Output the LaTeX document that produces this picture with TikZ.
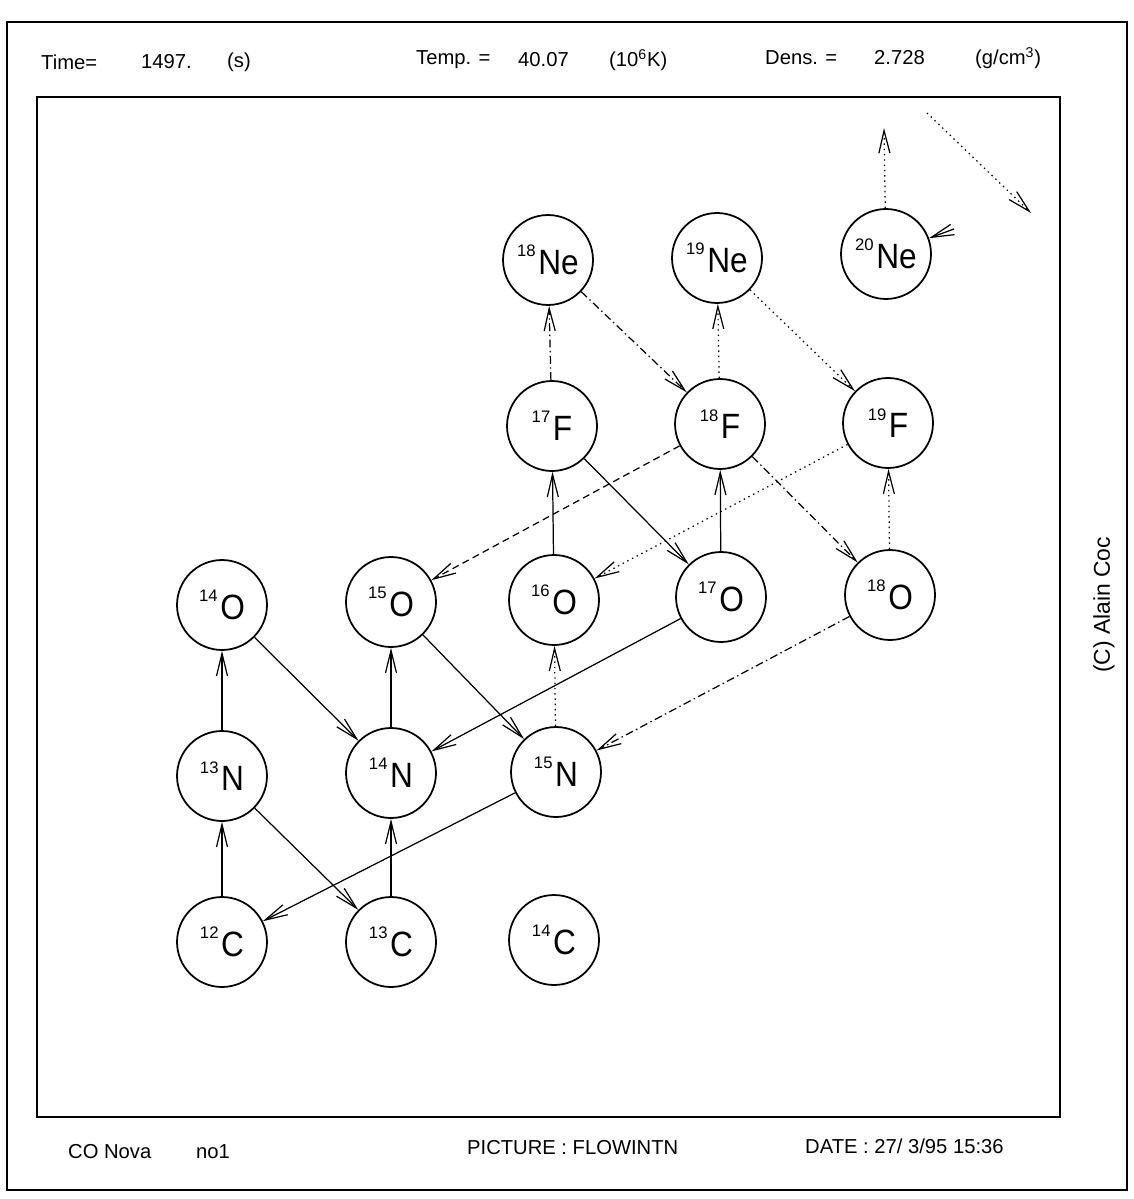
\documentclass[tikz,border=0pt]{standalone}
\usepackage{fontspec}
\setmainfont{Liberation Sans}
\newfontfamily\plotfont[FakeStretch=0.9]{Liberation Sans}
\usetikzlibrary{arrows.meta}

\newcommand{\iso}[2]{\raisebox{10pt}{\rmfamily\fontsize{9.5}{10}\selectfont #1}\kern1.5pt#2}

\begin{document}
\begin{tikzpicture}[
  x=0.02cm, y=-0.02cm,
  every node/.style={font=\fontsize{11.5}{13}\selectfont},
  nuc/.style={circle, draw, line width=1pt, minimum size=1.8cm,
    inner sep=0pt, font=\plotfont\fontsize{20}{21}\selectfont},
  frame/.style={draw, line width=1.1pt},
  arr/.style={-{Straight Barb[length=4.5mm, width=2.2mm]}, line width=0.7pt},
  dt/.style={dash pattern=on 0.8pt off 2.2pt},
  ds/.style={dash pattern=on 4pt off 2.5pt},
  dd/.style={dash pattern=on 4.5pt off 2pt on 0.8pt off 2pt},
]
\useasboundingbox (0,0) rectangle (1133,1199);

%% ---- frames ----
\draw[frame] (7,22) rectangle (1127,1190);
\draw[frame] (37,97) rectangle (1060,1117);

%% ---- header ----
\node[anchor=west] (time)  at (35,62)  {Time=};
\node[anchor=west] (timev) at (135,62) {1497.};
\node[anchor=west] (timeu) at (221,62) {(s)};
\node[anchor=west] (temp)  at (410,60) {Temp. =};
\node[anchor=west] (tempv) at (512,60) {40.07};
\node[anchor=west] (tempu) at (603,60) {(10\textsuperscript{6}K)};
\node[anchor=west] (dens)  at (759,58) {Dens. =};
\node[anchor=west] (densv) at (868,58) {2.728};
\node[anchor=west] (densu) at (969,58) {(g/cm\textsuperscript{3})};

%% ---- footer ----
\node[anchor=west] (model) at (62,1152)  {CO Nova};
\node[anchor=west] (run)   at (190,1152) {no1};
\node[anchor=west] (pict)  at (461,1148) {PICTURE : FLOWINTN};
\node[anchor=west] (date)  at (799,1146) {DATE : 27/ 3/95 15:36};
\node[rotate=90, font=\fontsize{13}{14}\selectfont] (copy) at (1104,605)
  {(C) Alain Coc};

%% ---- nuclei ----
\node[nuc] (C12)  at (222,942) {\iso{12}{C}};
\node[nuc] (C13)  at (391,942) {\iso{13}{C}};
\node[nuc] (C14)  at (554,940) {\iso{14}{C}};

\node[nuc] (N13)  at (222,776) {\iso{13}{N}};
\node[nuc] (N14)  at (391,773) {\iso{14}{N}};
\node[nuc] (N15)  at (556,772) {\iso{15}{N}};

\node[nuc] (O14)  at (222,605) {\iso{14}{O}};
\node[nuc] (O15)  at (391,602) {\iso{15}{O}};
\node[nuc] (O16)  at (554,600) {\iso{16}{O}};
\node[nuc] (O17)  at (721,597) {\iso{17}{O}};
\node[nuc] (O18)  at (890,595) {\iso{18}{O}};

\node[nuc] (F17)  at (552,426) {\iso{17}{F}};
\node[nuc] (F18)  at (720,424) {\iso{18}{F}};
\node[nuc] (F19)  at (888,423) {\iso{19}{F}};

\node[nuc] (Ne18) at (548,260) {\iso{18}{Ne}};
\node[nuc] (Ne19) at (717,258) {\iso{19}{Ne}};
\node[nuc] (Ne20) at (886,254) {\iso{20}{Ne}};

\coordinate (ne20up) at (884,128);
\coordinate (ne20in) at (954,229);
\coordinate (escA)   at (927,113);
\coordinate (escB)   at (1031,213);

%% ---- CNO cycle (solid) ----
\draw[arr] (C12) -- (N13);
\draw[arr] (N13) -- (O14);
\draw[arr] (N13) -- (C13);
\draw[arr] (C13) -- (N14);
\draw[arr] (N14) -- (O15);
\draw[arr] (O14) -- (N14);
\draw[arr] (O15) -- (N15);
\draw[arr] (N15) -- (C12);
\draw[arr] (O16) -- (F17);
\draw[arr] (F17) -- (O17);
\draw[arr] (O17) -- (F18);
\draw[arr] (O17) -- (N14);

%% ---- weaker flows ----
\draw[arr, dt] (N15)  -- (O16);
\draw[arr, dd] (O18)  -- (N15);
\draw[arr, ds] (F18)  -- (O15);
\draw[arr, dt] (F19)  -- (O16);
\draw[arr, dd] (F18)  -- (O18);
\draw[arr, dt] (O18)  -- (F19);
\draw[arr, dd] (F17)  -- (Ne18);
\draw[arr, dd] (Ne18) -- (F18);
\draw[arr, dt] (F18)  -- (Ne19);
\draw[arr, dt] (Ne19) -- (F19);

%% ---- leaving the network ----
\draw[arr, dt] (Ne20) -- (ne20up);
\draw[arr, dt] (escA) -- (escB);
\draw[arr] (ne20in) -- (Ne20);

\end{tikzpicture}
\end{document}
